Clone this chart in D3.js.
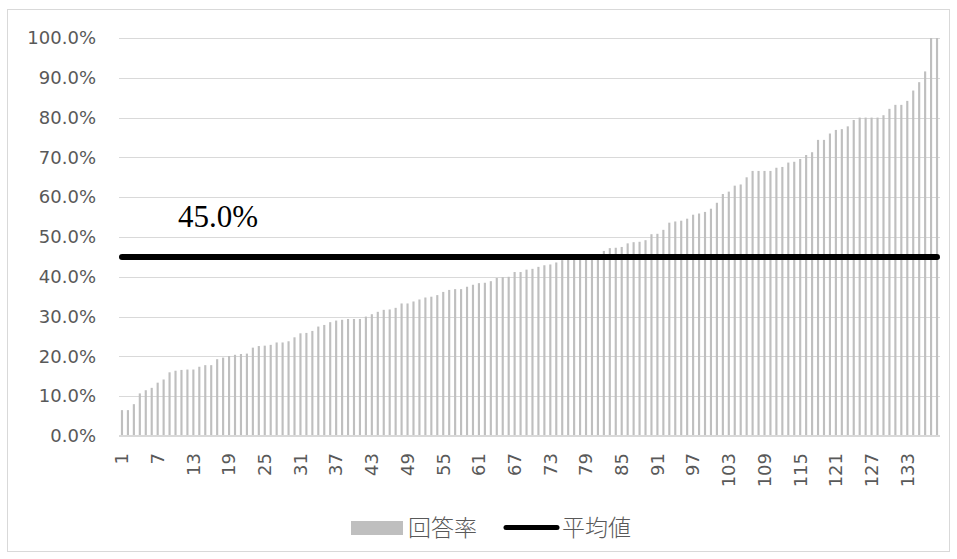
<!DOCTYPE html>
<html lang="ja">
<head>
<meta charset="utf-8">
<script src="https://cdn.jsdelivr.net/npm/d3@7"></script>
<style>
  html, body { margin: 0; padding: 0; background: #ffffff; }
  svg { display: block; }
</style>
</head>
<body>
<svg id="chart" width="957" height="559"></svg>
<script>
// 回答率 (%), sorted ascending, one value per respondent group
const rates = [
  6.5, 6.5, 8.0, 10.7, 11.5, 12.1, 13.4, 14.2, 16.0, 16.4,
  16.6, 16.7, 16.7, 17.4, 17.8, 17.8, 19.3, 19.7, 20.1, 20.4,
  20.6, 20.7, 22.2, 22.6, 22.7, 22.9, 23.5, 23.5, 23.8, 24.8,
  25.8, 25.9, 26.4, 27.5, 27.9, 28.6, 29.0, 29.2, 29.4, 29.4,
  29.4, 30.0, 30.6, 31.2, 31.7, 31.8, 32.2, 33.3, 33.3, 33.8,
  34.3, 34.8, 35.0, 35.4, 36.2, 36.7, 36.9, 36.9, 37.5, 38.0,
  38.4, 38.5, 38.9, 39.7, 39.9, 40.0, 41.2, 41.2, 41.8, 42.0,
  42.5, 42.9, 43.1, 43.6, 44.2, 44.4, 44.6, 44.8, 45.0, 45.2,
  45.4, 46.5, 47.2, 47.3, 47.5, 48.4, 48.7, 48.8, 49.2, 50.7,
  50.8, 51.8, 53.6, 53.9, 54.1, 54.6, 55.6, 55.9, 56.3, 57.1,
  58.6, 60.8, 61.4, 62.9, 63.2, 65.0, 66.6, 66.6, 66.6, 66.6,
  67.4, 67.6, 68.7, 68.9, 69.6, 70.6, 71.3, 74.4, 74.4, 76.0,
  76.9, 77.1, 77.8, 79.4, 80.0, 80.0, 80.0, 80.0, 80.6, 82.2,
  83.2, 83.2, 84.2, 86.8, 88.9, 91.6, 100.0, 100.0
];

// category labels 1..N
const categories = rates.map((_, i) => String(i + 1));

// average of 回答率 (%)
const averageRate = 45.0;

// y-axis tick values (fractions)
const yTicks = [0, 0.1, 0.2, 0.3, 0.4, 0.5, 0.6, 0.7, 0.8, 0.9, 1.0];

// x-axis labels shown every 6th category
const xTickLabels = categories.filter((_, i) => i % 6 === 0);

// legend entries
const seriesNames = ["回答率", "平均値"];

const svg = d3.select("#chart");
const plot = { left: 119, right: 940, top: 38, bottom: 436 };

const sansFont = "'DejaVu Sans', 'Noto Sans', sans-serif";
const cjkFont = "'Noto Sans CJK JP', 'Noto Sans', sans-serif";
const textGray = "#595959";
const gridGray = "#d9d9d9";
const barGray = "#bfbfbf";

// outer chart frame
svg.append("rect")
  .attr("x", 7.5).attr("y", 9.5)
  .attr("width", 942).attr("height", 542)
  .attr("fill", "#ffffff")
  .attr("stroke", gridGray)
  .attr("stroke-width", 1);

const x = d3.scaleBand()
  .domain(categories)
  .range([plot.left, plot.right])
  .paddingInner(0.64)
  .paddingOuter(0.32);

const y = d3.scaleLinear()
  .domain([0, 1])
  .range([plot.bottom, plot.top]);

// horizontal gridlines
svg.append("g")
  .selectAll("line")
  .data(yTicks)
  .join("line")
  .attr("x1", plot.left).attr("x2", plot.right)
  .attr("y1", d => Math.round(y(d)) + 0.5)
  .attr("y2", d => Math.round(y(d)) + 0.5)
  .attr("stroke", gridGray)
  .attr("stroke-width", 1);

// y axis labels
const yAxis = svg.append("g")
  .attr("transform", `translate(${plot.left},0)`)
  .call(d3.axisLeft(y).tickValues(yTicks).tickFormat(d3.format(".1%")).tickSize(0).tickPadding(23));
yAxis.select(".domain").remove();
yAxis.selectAll("text")
  .attr("fill", textGray)
  .style("font-family", sansFont)
  .style("font-size", "18px");

// bars
svg.append("g")
  .selectAll("rect")
  .data(rates)
  .join("rect")
  .attr("x", (d, i) => x(categories[i]))
  .attr("width", x.bandwidth())
  .attr("y", d => y(d / 100))
  .attr("height", d => y(0) - y(d / 100))
  .attr("fill", barGray);

// category axis
const xAxis = svg.append("g")
  .attr("transform", `translate(0,${plot.bottom})`)
  .call(d3.axisBottom(x).tickValues(xTickLabels).tickSize(0));
xAxis.select(".domain")
  .attr("stroke", gridGray)
  .attr("stroke-width", 2)
  .attr("d", `M${plot.left},0H${plot.right}`);
xAxis.selectAll("text")
  .attr("transform", "rotate(-90)")
  .attr("x", -17)
  .attr("y", 0)
  .attr("dy", "0.35em")
  .attr("text-anchor", "end")
  .attr("fill", textGray)
  .style("font-family", sansFont)
  .style("font-size", "18px");

// average line across all categories
const first = categories[0], last = categories[categories.length - 1];
const avgLine = d3.line()
  .x(d => x(d) + x.bandwidth() / 2)
  .y(() => y(averageRate / 100));
svg.append("path")
  .datum([first, last])
  .attr("d", avgLine)
  .attr("fill", "none")
  .attr("stroke", "#000000")
  .attr("stroke-width", 6)
  .attr("stroke-linecap", "round");

// average value label
svg.append("text")
  .attr("x", 178)
  .attr("y", y(averageRate / 100) - 30)
  .attr("fill", "#000000")
  .style("font-family", "'Liberation Serif', 'DejaVu Serif', serif")
  .style("font-size", "31px")
  .text(d3.format(".1%")(averageRate / 100));

// legend
const legend = svg.append("g");
legend.append("rect")
  .attr("x", 351).attr("y", 521)
  .attr("width", 52).attr("height", 14)
  .attr("fill", barGray);
legend.append("text")
  .attr("x", 408).attr("y", 526)
  .attr("dominant-baseline", "central")
  .attr("fill", textGray)
  .style("font-family", cjkFont)
  .style("font-weight", 300)
  .style("font-size", "23px")
  .text(seriesNames[0]);
legend.append("line")
  .attr("x1", 506).attr("x2", 557)
  .attr("y1", 527.5).attr("y2", 527.5)
  .attr("stroke", "#000000")
  .attr("stroke-width", 5)
  .attr("stroke-linecap", "round");
legend.append("text")
  .attr("x", 562).attr("y", 526)
  .attr("dominant-baseline", "central")
  .attr("fill", textGray)
  .style("font-family", cjkFont)
  .style("font-weight", 300)
  .style("font-size", "23px")
  .text(seriesNames[1]);
</script>
</body>
</html>
